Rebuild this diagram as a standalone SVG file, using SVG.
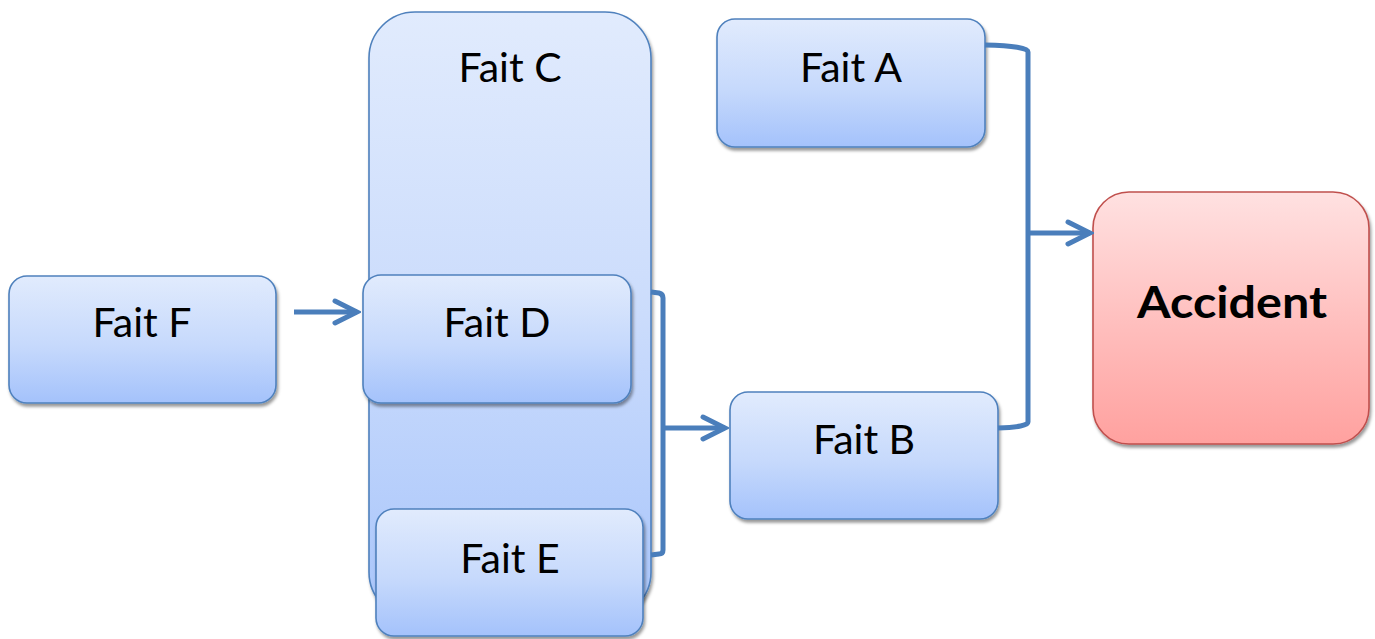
<svg xmlns="http://www.w3.org/2000/svg" width="1375" height="639" viewBox="0 0 1375 639">
<style>
.box{fill:url(#gBlue);stroke:#4f81bd;stroke-width:1.6;filter:url(#sh)}
.big{fill:url(#gBlueC);stroke:#4f81bd;stroke-width:1.6;filter:url(#sh)}
.acc{fill:url(#gRed);stroke:#c0504d;stroke-width:1.6;filter:url(#sh)}
.lbl{font-family:Lato,"Open Sans","Liberation Sans",sans-serif;font-size:41px;fill:#000;text-anchor:middle}
.lblb{font-family:Lato,"Open Sans","Liberation Sans",sans-serif;font-size:44px;font-weight:bold;fill:#000;text-anchor:middle}
.con{fill:none;stroke:#4a7ebb;stroke-width:5;stroke-linejoin:round}
</style>
<defs>
<linearGradient id="gBlue" x1="0" y1="0" x2="0" y2="1">
<stop offset="0" stop-color="#e1ebfd"/>
<stop offset="0.55" stop-color="#c6d9fc"/>
<stop offset="1" stop-color="#a4c2fb"/>
</linearGradient>
<linearGradient id="gBlueC" x1="0" y1="0" x2="0" y2="1">
<stop offset="0" stop-color="#e1ebfd"/>
<stop offset="0.5" stop-color="#cbdcfc"/>
<stop offset="1" stop-color="#a8c5fb"/>
</linearGradient>
<linearGradient id="gRed" x1="0" y1="0" x2="0" y2="1">
<stop offset="0" stop-color="#ffe1e1"/>
<stop offset="0.55" stop-color="#ffbdbc"/>
<stop offset="1" stop-color="#ffa19f"/>
</linearGradient>
<filter id="sh" x="-10%" y="-10%" width="120%" height="125%">
<feDropShadow dx="1.5" dy="3" stdDeviation="1.5" flood-color="#000" flood-opacity="0.4"/>
</filter>
<marker id="arr" markerUnits="userSpaceOnUse" viewBox="-26 -14 30 28" refX="0" refY="0" markerWidth="30" markerHeight="28" orient="auto">
<path d="M-22,-11 L0,0 L-22,11" fill="none" stroke="#4a7ebb" stroke-width="5" stroke-linecap="round" stroke-linejoin="miter"/>
</marker>
</defs>
<g id="node-fait-c">
<rect class="big" x="369" y="12" width="282" height="606" rx="46" ry="46"/>
<text class="lbl" x="510" y="82">Fait C</text>
</g>
<g id="node-fait-f">
<rect class="box" x="9" y="276" width="267" height="127" rx="18" ry="18"/>
<text class="lbl" x="142" y="337">Fait F</text>
</g>
<g id="node-fait-d">
<rect class="box" x="363" y="275" width="268" height="128" rx="18" ry="18"/>
<text class="lbl" x="497" y="337">Fait D</text>
</g>
<g id="node-fait-e">
<rect class="box" x="376" y="509" width="267" height="127" rx="18" ry="18"/>
<text class="lbl" x="510" y="573">Fait E</text>
</g>
<g id="node-fait-a">
<rect class="box" x="717" y="19" width="268" height="128" rx="18" ry="18"/>
<text class="lbl" x="851" y="82">Fait A</text>
</g>
<g id="node-fait-b">
<rect class="box" x="730" y="392" width="268" height="127" rx="18" ry="18"/>
<text class="lbl" x="864" y="454">Fait B</text>
</g>
<g id="node-accident">
<rect class="acc" x="1093" y="192" width="276" height="252" rx="36" ry="36"/>
<text class="lblb" x="1232" y="318" textLength="190" lengthAdjust="spacingAndGlyphs">Accident</text>
</g>
<g id="connectors">
<path class="con" d="M294,312 L357,312" marker-end="url(#arr)"/>
<path class="con" d="M651,292 L659,293 Q663,294 663,298 L663,550 Q663,554 659,554 L651,555"/>
<path class="con" d="M663,428 L725,428" marker-end="url(#arr)"/>
<path class="con" d="M985,45 Q1028,46 1028,52 L1028,422 Q1028,427 998,428"/>
<path class="con" d="M1028,233 L1090,233" marker-end="url(#arr)"/>
</g>
</svg>
